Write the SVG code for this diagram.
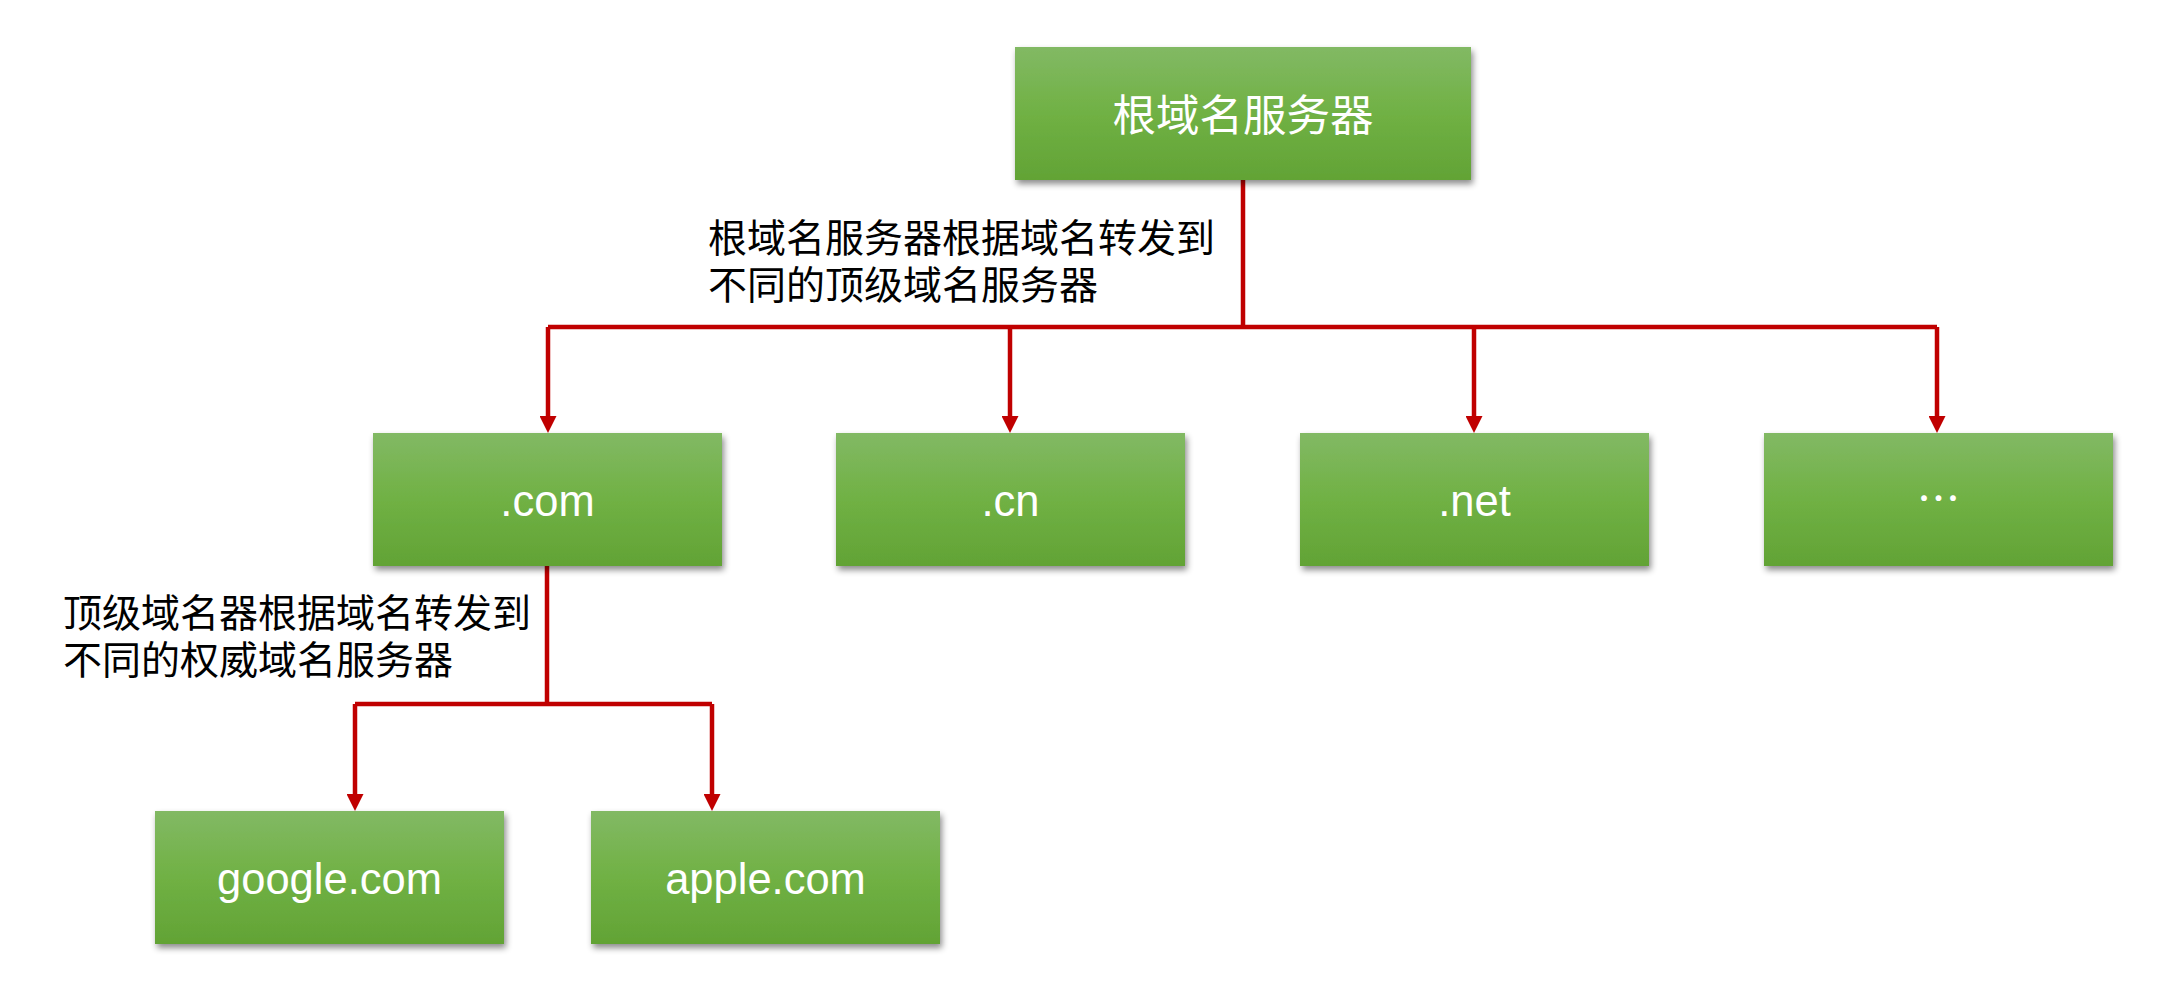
<svg xmlns="http://www.w3.org/2000/svg" width="2179" height="1002" viewBox="0 0 2179 1002">
  <style>
    .box { fill: url(#g); filter: url(#sh); }
    .lbl { fill: #ffffff; font-family: "Liberation Sans", Arial, sans-serif; font-size: 43.5px; text-anchor: middle; }
    .cjk { font-family: "Noto Sans CJK SC", "Liberation Sans", sans-serif; }
    .note { fill: #000000; font-family: "Noto Sans CJK SC", sans-serif; font-size: 39px; }
    .conn { fill: none; stroke: #c00000; stroke-width: 4.5; }
  </style>
  <defs>
    <linearGradient id="g" x1="0" y1="0" x2="0" y2="1">
      <stop offset="0" stop-color="#82b964"/>
      <stop offset="0.5" stop-color="#70b144"/>
      <stop offset="1" stop-color="#62a335"/>
    </linearGradient>
    <filter id="sh" x="-10%" y="-10%" width="120%" height="130%">
      <feDropShadow dx="2" dy="4" stdDeviation="3" flood-color="#000000" flood-opacity="0.45"/>
    </filter>
    <marker id="arr" markerUnits="userSpaceOnUse" markerWidth="17" markerHeight="17" refX="4" refY="8.5" orient="auto">
      <path d="M0,0 L17,8.5 L0,17 z" fill="#c00000"/>
    </marker>
  </defs>
  <rect width="2179" height="1002" fill="#ffffff"/>

  <g id="connectors">
    <path class="conn" d="M1243,180 V327"/>
    <path class="conn" d="M548,327 H1937"/>
    <path class="conn" d="M548,327 V420" marker-end="url(#arr)"/>
    <path class="conn" d="M1010,327 V420" marker-end="url(#arr)"/>
    <path class="conn" d="M1474,327 V420" marker-end="url(#arr)"/>
    <path class="conn" d="M1937,327 V420" marker-end="url(#arr)"/>
    <path class="conn" d="M547,566 V704"/>
    <path class="conn" d="M355,704 H712"/>
    <path class="conn" d="M355,704 V798" marker-end="url(#arr)"/>
    <path class="conn" d="M712,704 V798" marker-end="url(#arr)"/>
  </g>

  <g id="root">
    <rect class="box" x="1015" y="47" width="456" height="133"/>
    <text class="lbl cjk" x="1243" y="131" font-size="46">根域名服务器</text>
  </g>
  <g id="com">
    <rect class="box" x="373" y="433" width="349" height="133"/>
    <text class="lbl" x="547.5" y="516">.com</text>
  </g>
  <g id="cn">
    <rect class="box" x="836" y="433" width="349" height="133"/>
    <text class="lbl" x="1010.5" y="516">.cn</text>
  </g>
  <g id="net">
    <rect class="box" x="1300" y="433" width="349" height="133"/>
    <text class="lbl" x="1474.5" y="516">.net</text>
  </g>
  <g id="more">
    <rect class="box" x="1764" y="433" width="349" height="133"/>
    <text class="lbl cjk" x="1938.5" y="515" font-size="35">…</text>
  </g>
  <g id="google">
    <rect class="box" x="155" y="811" width="349" height="133"/>
    <text class="lbl" x="329.5" y="894">google.com</text>
  </g>
  <g id="apple">
    <rect class="box" x="591" y="811" width="349" height="133"/>
    <text class="lbl" x="765.5" y="894">apple.com</text>
  </g>

  <g id="note-root">
    <text class="note" x="708" y="252"><tspan x="708" y="252">根域名服务器根据域名转发到</tspan><tspan x="708" y="299">不同的顶级域名服务器</tspan></text>
  </g>
  <g id="note-tld">
    <text class="note" x="63" y="627"><tspan x="63" y="627">顶级域名器根据域名转发到</tspan><tspan x="63" y="674">不同的权威域名服务器</tspan></text>
  </g>
</svg>
